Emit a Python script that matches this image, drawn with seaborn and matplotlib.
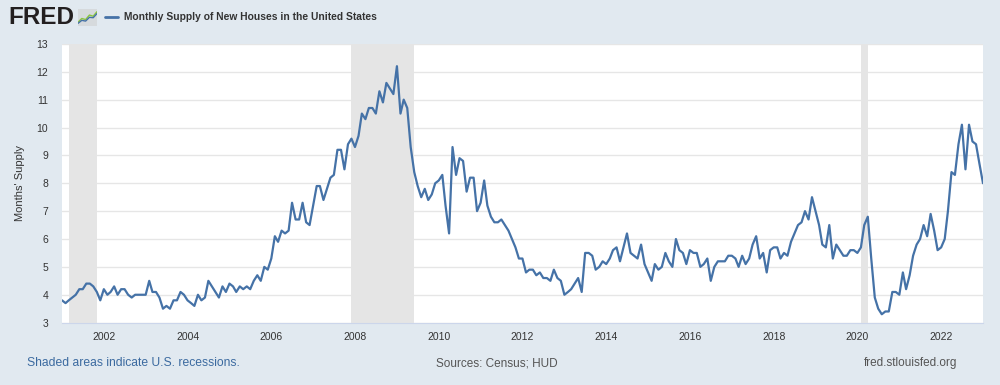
import pandas as pd
import numpy as np
import matplotlib.pyplot as plt
import matplotlib.dates as mdates
import seaborn as sns

# monthly supply of new houses, Jan 2001 - Jan 2023
supply = [
    3.8, 3.7, 3.8, 3.9, 4.0, 4.2, 4.2, 4.4, 4.4, 4.3, 4.1, 3.8,  # 2001
    4.2, 4.0, 4.1, 4.3, 4.0, 4.2, 4.2, 4.0, 3.9, 4.0, 4.0, 4.0,  # 2002
    4.0, 4.5, 4.1, 4.1, 3.9, 3.5, 3.6, 3.5, 3.8, 3.8, 4.1, 4.0,  # 2003
    3.8, 3.7, 3.6, 4.0, 3.8, 3.9, 4.5, 4.3, 4.1, 3.9, 4.3, 4.1,  # 2004
    4.4, 4.3, 4.1, 4.3, 4.2, 4.3, 4.2, 4.5, 4.7, 4.5, 5.0, 4.9,  # 2005
    5.3, 6.1, 5.9, 6.3, 6.2, 6.3, 7.3, 6.7, 6.7, 7.3, 6.6, 6.5,  # 2006
    7.2, 7.9, 7.9, 7.4, 7.8, 8.2, 8.3, 9.2, 9.2, 8.5, 9.4, 9.6,  # 2007
    9.3, 9.7, 10.5, 10.3, 10.7, 10.7, 10.5, 11.3, 10.9, 11.6, 11.4, 11.2,  # 2008
    12.2, 10.5, 11.0, 10.7, 9.3, 8.4, 7.9, 7.5, 7.8, 7.4, 7.6, 8.0,  # 2009
    8.1, 8.3, 7.2, 6.2, 9.3, 8.3, 8.9, 8.8, 7.7, 8.2, 8.2, 7.0,  # 2010
    7.3, 8.1, 7.2, 6.8, 6.6, 6.6, 6.7, 6.5, 6.3, 6.0, 5.7, 5.3,  # 2011
    5.3, 4.8, 4.9, 4.9, 4.7, 4.8, 4.6, 4.6, 4.5, 4.9, 4.6, 4.5,  # 2012
    4.0, 4.1, 4.2, 4.4, 4.6, 4.1, 5.5, 5.5, 5.4, 4.9, 5.0, 5.2,  # 2013
    5.1, 5.3, 5.6, 5.7, 5.2, 5.7, 6.2, 5.5, 5.4, 5.3, 5.8, 5.1,  # 2014
    4.8, 4.5, 5.1, 4.9, 5.0, 5.5, 5.2, 5.0, 6.0, 5.6, 5.5, 5.1,  # 2015
    5.6, 5.5, 5.5, 5.0, 5.1, 5.3, 4.5, 5.0, 5.2, 5.2, 5.2, 5.4,  # 2016
    5.4, 5.3, 5.0, 5.4, 5.1, 5.3, 5.8, 6.1, 5.3, 5.5, 4.8, 5.6,  # 2017
    5.7, 5.7, 5.3, 5.5, 5.4, 5.9, 6.2, 6.5, 6.6, 7.0, 6.7, 7.5,  # 2018
    7.0, 6.5, 5.8, 5.7, 6.5, 5.3, 5.8, 5.6, 5.4, 5.4, 5.6, 5.6,  # 2019
    5.5, 5.7, 6.5, 6.8, 5.3, 3.9, 3.5, 3.3, 3.4, 3.4, 4.1, 4.1,  # 2020
    4.0, 4.8, 4.2, 4.7, 5.4, 5.8, 6.0, 6.5, 6.1, 6.9, 6.3, 5.6,  # 2021
    5.7, 6.0, 7.0, 8.4, 8.3, 9.4, 10.1, 8.5, 10.1, 9.5, 9.4, 8.7,  # 2022
    8.0,  # 2023
]
dates = pd.date_range("2001-01-01", periods=len(supply), freq="MS")

recession_start = ["2001-03-01", "2007-12-01", "2020-02-01"]
recession_end = ["2001-11-01", "2009-06-01", "2020-04-01"]

year_ticks = list(range(2002, 2023, 2))
y_ticks = list(range(3, 14))

# little zigzag lines of the logo icon
icon_x = [0, 1, 2, 3, 4, 5]
icon_green = [0.5, 1.5, 1.2, 2.4, 2.1, 3.3]
icon_blue = [0.2, 1.0, 0.8, 1.8, 1.7, 2.8]

df = pd.DataFrame({"date": dates, "supply": supply})

sns.set_style("white")
plt.rcParams["font.family"] = ["Liberation Sans", "DejaVu Sans"]

bg = "#e1e9f0"
fig = plt.figure(figsize=(10, 3.85), dpi=100, facecolor=bg)
ax = fig.add_axes([0.062, 0.162, 0.921, 0.724])
ax.set_facecolor("white")

for s, e in zip(recession_start, recession_end):
    ax.axvspan(pd.Timestamp(s), pd.Timestamp(e), color="#e5e5e5", lw=0, zorder=1)

for v in y_ticks:
    ax.axhline(v, color="#e6e6e6", lw=1, zorder=0.5)

sns.lineplot(data=df, x="date", y="supply", ax=ax, color="#4572a7", lw=1.6, zorder=3)

ax.set_xlim(dates[0], dates[-1])
ax.set_ylim(3, 13)
ax.set_yticks(y_ticks)
ax.set_xticks([pd.Timestamp(f"{y}-01-01") for y in year_ticks])
ax.xaxis.set_major_formatter(mdates.DateFormatter("%Y"))
ax.tick_params(axis="x", colors="#ccd6eb", length=5, width=1, labelcolor="#333333",
               labelsize=7.5, pad=2, direction="out")
ax.tick_params(axis="y", length=0, labelcolor="#333333", labelsize=7.5, pad=10)
for sp in ["top", "right", "left"]:
    ax.spines[sp].set_visible(False)
ax.spines["bottom"].set_color("#ccd6eb")
ax.set_xlabel("")
ax.set_ylabel("Months' Supply", fontsize=8, color="#333333", labelpad=8)

# header
fig.text(0.008, 0.955, "FRED", fontsize=17.5, fontweight="bold", color="#231f20",
         va="center", ha="left")
icon = fig.add_axes([0.078, 0.9325, 0.019, 0.044])
icon.set_facecolor("#d6dadd")
icon.plot(icon_x, icon_green, color="#8cc63f", lw=1)
icon.plot(icon_x, icon_blue, color="#4572a7", lw=1)
icon.set_xlim(0, 5)
icon.set_ylim(-0.5, 4)
icon.set_xticks([])
icon.set_yticks([])
for sp in icon.spines.values():
    sp.set_visible(False)

fig.lines.append(plt.Line2D([0.105, 0.118], [0.957, 0.957], color="#4572a7", lw=2,
                            transform=fig.transFigure))
fig.text(0.124, 0.957, "Monthly Supply of New Houses in the United States", fontsize=7.4,
         fontweight="bold", color="#333333", va="center", ha="left")

# footer
fig.text(0.027, 0.057, "Shaded areas indicate U.S. recessions.", fontsize=8.7,
         color="#3b6aa0", va="center", ha="left")
fig.text(0.497, 0.057, "Sources: Census; HUD", fontsize=8.5, color="#555555",
         va="center", ha="center")
fig.text(0.957, 0.057, "fred.stlouisfed.org", fontsize=8.5, color="#555555",
         va="center", ha="right")

fig.savefig("out.png", dpi=100, facecolor=bg)
